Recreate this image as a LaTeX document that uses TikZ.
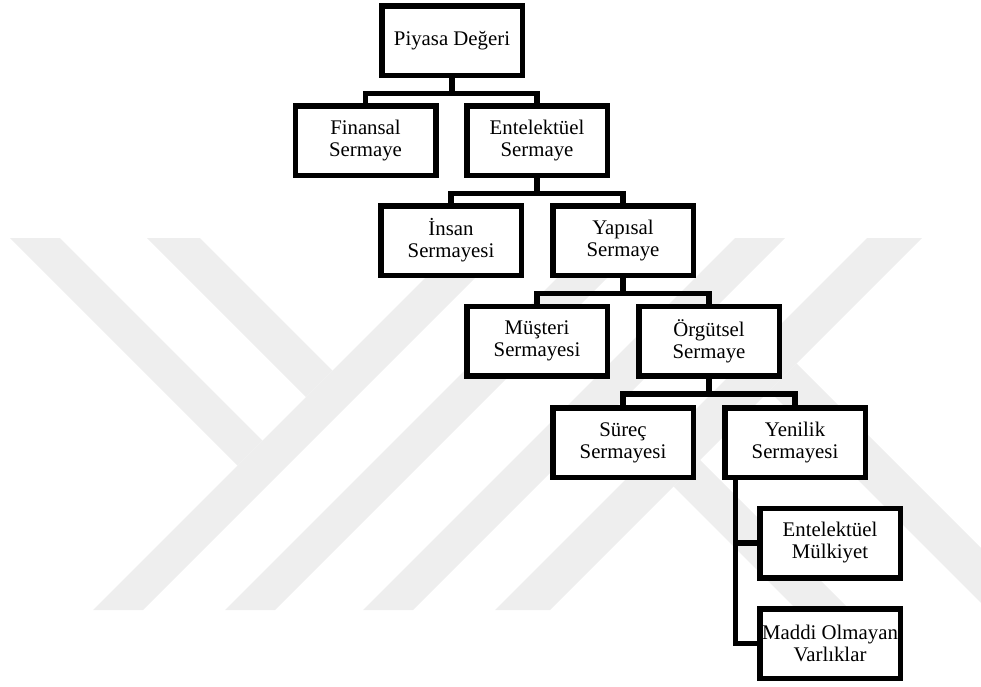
\documentclass[tikz,border=0pt]{standalone}
\usepackage{fontspec}
\setmainfont{Liberation Serif}
\usetikzlibrary{calc}
\definecolor{wmgray}{RGB}{238,238,238}
\tikzset{
  box/.style={draw=black, fill=white, line width=5.5pt,
    minimum width=140.5pt, minimum height=69.5pt, inner sep=0pt,
    align=center, font=\fontsize{20.8pt}{22pt}\selectfont},
  conn/.style={draw=black, line width=5.5pt, line join=miter},
  band/.style={fill=wmgray, draw=none}
}
\begin{document}
\begin{tikzpicture}[x=1pt,y=-1pt]
\useasboundingbox (0,0) rectangle (981,686);

% light grey background emblem
\begin{scope}
  \clip (0,0) rectangle (981,686);
  % short strokes on the left
  \fill[band] (10,238) -- (60,238) -- (262.5,440.5) -- (237.5,465.5) -- cycle;
  \fill[band] (147,238) -- (200,238) -- (332.5,370.5) -- (306,397) -- cycle;
  % long rising strokes
  \fill[band] (93,610) -- (143,610) -- (515,238) -- (465,238) -- cycle;
  \fill[band] (225,610) -- (275,610) -- (647,238) -- (597,238) -- cycle;
  \fill[band] (363,610) -- (413,610) -- (785,238) -- (735,238) -- cycle;
  \fill[band] (495,610) -- (550,610) -- (922,238) -- (867,238) -- cycle;
  % short strokes on the right
  \fill[band] (673.5,486.5) -- (700,460) -- (850,610) -- (797,610) -- cycle;
  \fill[band] (769,391) -- (796.5,363.5) -- (1043,610) -- (988,610) -- cycle;
\end{scope}

% boxes
\node[box] (root)  at (452,40.5)   {Piyasa Değeri};
\node[box] (fin)   at (365.5,140.5) {Finansal\\Sermaye};
\node[box] (ent)   at (537,140.5)   {Entelektüel\\Sermaye};
\node[box] (insan) at (451,240.5)   {İnsan\\Sermayesi};
\node[box] (yap)   at (623,240.5)   {Yapısal\\Sermaye};
\node[box] (must)  at (537,341)     {Müşteri\\Sermayesi};
\node[box] (org)   at (709,341)     {Örgütsel\\Sermaye};
\node[box] (surec) at (623,442.5)   {Süreç\\Sermayesi};
\node[box] (yen)   at (795,442.5)   {Yenilik\\Sermayesi};
\node[box] (mulk)  at (830,543)     {Entelektüel\\Mülkiyet};
\node[box] (maddi) at (830,643.5)   {Maddi Olmayan\\Varlıklar};

% tree connectors
\draw[conn] (root.south) -- ++(0,15.5) -| (fin.north);
\draw[conn] (root.south) ++(0,15.5) -| (ent.north);
\draw[conn] (ent.south) -- ++(0,15.5) -| (insan.north);
\draw[conn] (ent.south) ++(0,15.5) -| (yap.north);
\draw[conn] (yap.south) -- ++(0,15.5) -| (must.north);
\draw[conn] (yap.south) ++(0,15.5) -| (org.north);
\draw[conn] (org.south) -- ++(0,15.5) -| (surec.north);
\draw[conn] (org.south) ++(0,15.5) -| (yen.north);

% side trunk below Yenilik Sermayesi
\coordinate (trunk) at ($(yen.south west)+(13.25,0)$);
\draw[conn] (trunk) |- (mulk.west);
\draw[conn] (trunk) |- (maddi.west);
\end{tikzpicture}
\end{document}
